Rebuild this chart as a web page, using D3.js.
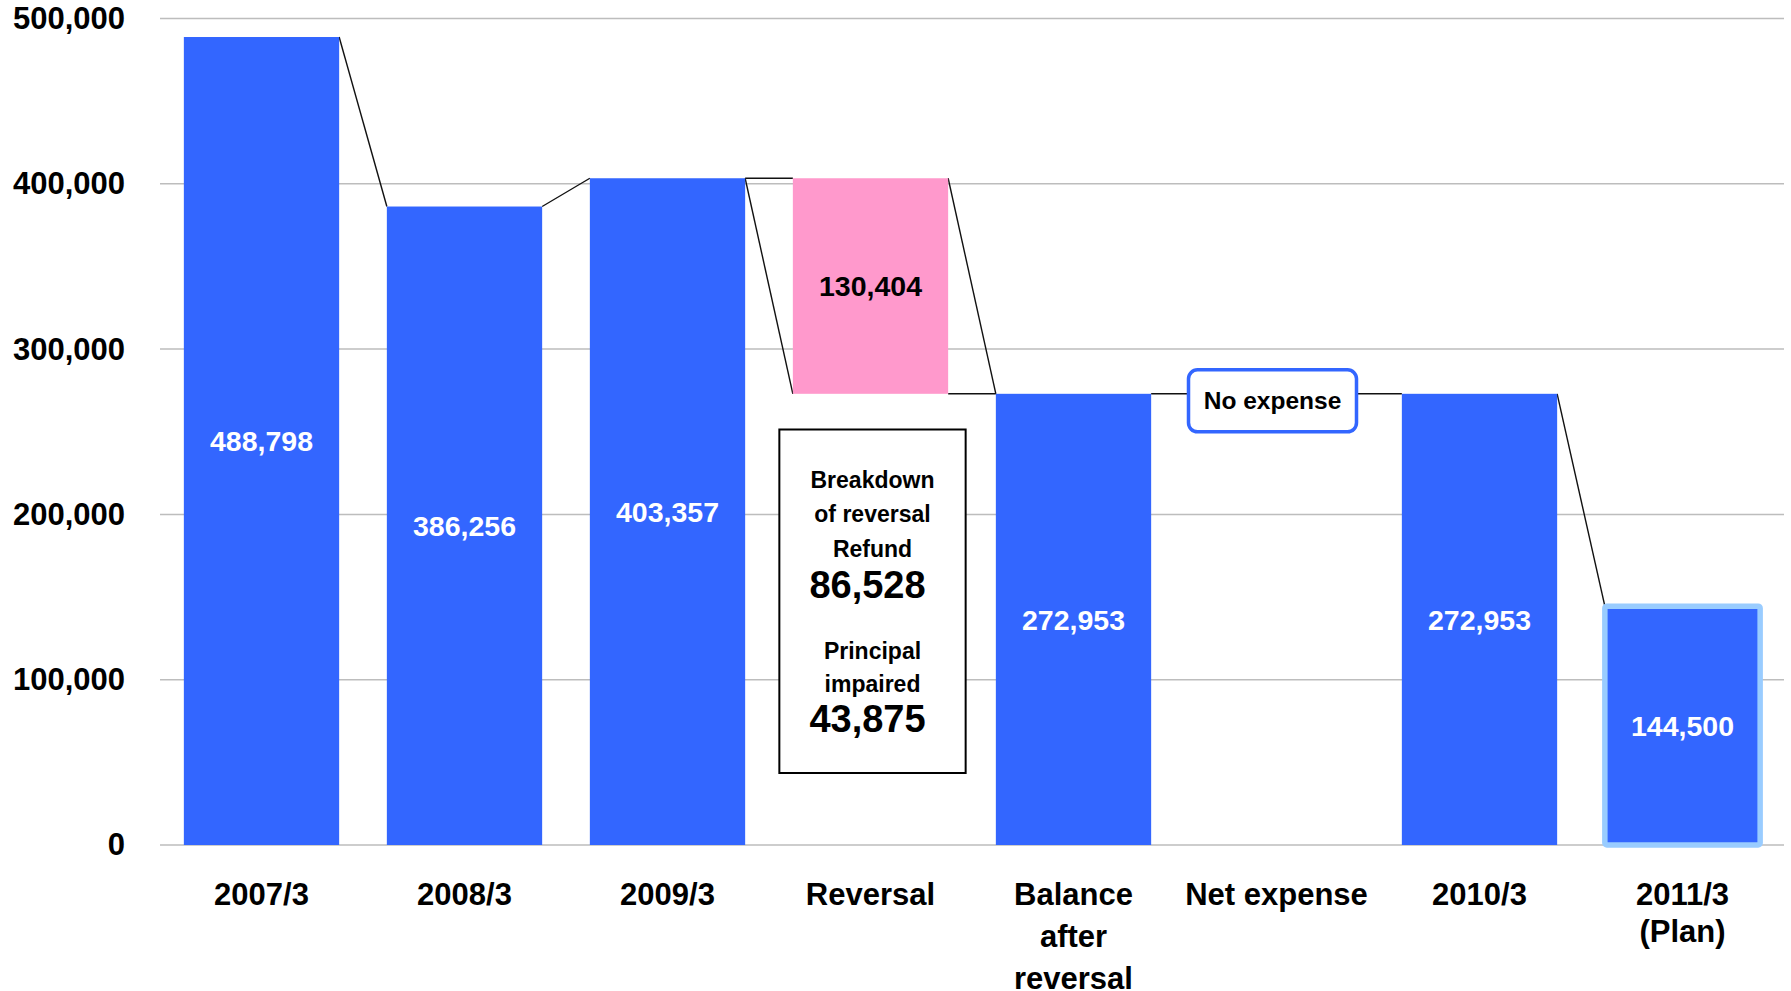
<!DOCTYPE html>
<html>
<head>
<meta charset="utf-8">
<script src="https://cdn.jsdelivr.net/npm/d3@7"></script>
<style>
    body { margin: 0; background: #fff; }
    text { font-family: "Liberation Sans", Arial, sans-serif; font-weight: bold; }
</style>
</head>
<body>
<div id="chart-area"></div>
<script>
/*
*    main.js
*/
var categories = [
    ["2007/3"], ["2008/3"], ["2009/3"], ["Reversal"],
    ["Balance", "after", "reversal"], ["Net expense"], ["2010/3"], ["2011/3", "(Plan)"]
];
var kinds = ["total", "total", "total", "change", "total", "change", "total", "plan"];
var barBottoms = [0, 0, 0, 272953, 0, 272953, 0, 0];
var barValues = [488798, 386256, 403357, 130404, 272953, 0, 272953, 144500];
var yTicks = [0, 100000, 200000, 300000, 400000, 500000];

var breakdownLabels = [["Breakdown", "of reversal", "Refund"], ["Principal", "impaired"]];
var breakdownValues = [86528, 43875];
var noteText = "No expense";

var fmt = d3.format(",");

var svg = d3.select("#chart-area").append("svg")
    .attr("width", 1791)
    .attr("height", 991);

var x = d3.scaleBand()
    .domain(d3.range(categories.length))
    .range([160, 1784])
    .paddingInner(0.235)
    .paddingOuter(0.1175);

var y = d3.scaleLinear()
    .domain([0, 500000])
    .range([845, 18.5]);

// gridlines
svg.append("g").selectAll("line").data(yTicks).enter().append("line")
    .attr("x1", 160)
    .attr("x2", 1784)
    .attr("y1", (d) => y(d))
    .attr("y2", (d) => y(d))
    .attr("stroke", "#bdbdbd")
    .attr("stroke-width", 1.5);

// y labels
var yAxis = d3.axisLeft(y).tickValues(yTicks).tickFormat(fmt).tickSize(0).tickPadding(0);
var yg = svg.append("g").attr("transform", "translate(125,0)").call(yAxis);
yg.select(".domain").remove();
yg.selectAll("text")
    .attr("font-size", 31)
    .attr("font-family", "Liberation Sans, Arial, sans-serif")
    .attr("font-weight", "bold")
    .attr("fill", "#000");

// connector (series) lines
var lo = barValues.map((v, i) => kinds[i] == "change" ? barBottoms[i] : barBottoms[i] + v);
var hi = barValues.map((v, i) => barBottoms[i] + v);
var links = [];
for (var i = 0; i < categories.length - 1; i++) {
    links.push({ i: i, a: lo[i], b: lo[i + 1] });
    if (hi[i] != lo[i] || hi[i + 1] != lo[i + 1]) {
        links.push({ i: i, a: hi[i], b: hi[i + 1] });
    }
}
svg.append("g").selectAll("line").data(links).enter().append("line")
    .attr("x1", (d) => x(d.i) + x.bandwidth())
    .attr("x2", (d) => x(d.i + 1))
    .attr("y1", (d) => y(d.a))
    .attr("y2", (d) => y(d.b))
    .attr("stroke", "#111")
    .attr("stroke-width", 1.4);

// bars
svg.append("g").selectAll("rect").data(barValues).enter().append("rect")
    .attr("x", (d, i) => x(i))
    .attr("y", (d, i) => y(barBottoms[i] + d))
    .attr("width", x.bandwidth())
    .attr("height", (d, i) => y(barBottoms[i]) - y(barBottoms[i] + d))
    .attr("fill", (d, i) => kinds[i] == "change" ? "#ff99cc" : "#3366ff")
    .attr("stroke", (d, i) => kinds[i] == "plan" ? "#99ccff" : "none")
    .attr("stroke-width", 5.5)
    .attr("rx", (d, i) => kinds[i] == "plan" ? 2 : 0);

// value labels
var labelData = barValues.map((v, i) => ({ v: v, i: i })).filter((d) => d.v > 0);
svg.append("g").selectAll("text").data(labelData).enter().append("text")
    .attr("x", (d) => x(d.i) + x.bandwidth() / 2)
    .attr("y", (d) => (y(barBottoms[d.i]) + y(barBottoms[d.i] + d.v)) / 2)
    .attr("dy", "0.36em")
    .attr("text-anchor", "middle")
    .attr("font-size", 28.5)
    .attr("fill", (d) => kinds[d.i] == "change" ? "#000" : "#fff")
    .text((d) => fmt(d.v));

// category labels
var cat = svg.append("g").selectAll("text").data(categories).enter().append("text")
    .attr("x", (d, i) => x(i) + x.bandwidth() / 2)
    .attr("y", 905)
    .attr("text-anchor", "middle")
    .attr("font-size", 31);
cat.selectAll("tspan").data((d) => d).enter().append("tspan")
    .attr("x", function () { return this.parentNode.getAttribute("x"); })
    .attr("dy", (d, j) => j == 0 ? 0 : (d == "(Plan)" ? 37 : 42))
    .text((d) => d);

// breakdown box under the reversal bar
var ri = kinds.indexOf("change");
var bx = x(ri) - 13.5, bw = x.bandwidth() + 31;
svg.append("rect")
    .attr("x", bx)
    .attr("y", 429.5)
    .attr("width", bw)
    .attr("height", 343.5)
    .attr("fill", "#fff")
    .attr("stroke", "#000")
    .attr("stroke-width", 2);

var bc = bx + bw / 2;
var smallRows = [488, 522, 557];
breakdownLabels[0].forEach((t, j) => {
    svg.append("text").attr("x", bc).attr("y", smallRows[j])
        .attr("text-anchor", "middle").attr("font-size", 23).text(t);
});
svg.append("text").attr("x", bc - 5).attr("y", 598)
    .attr("text-anchor", "middle").attr("font-size", 38).text(fmt(breakdownValues[0]));
var smallRows2 = [659, 692];
breakdownLabels[1].forEach((t, j) => {
    svg.append("text").attr("x", bc).attr("y", smallRows2[j])
        .attr("text-anchor", "middle").attr("font-size", 23).text(t);
});
svg.append("text").attr("x", bc - 5).attr("y", 732)
    .attr("text-anchor", "middle").attr("font-size", 38).text(fmt(breakdownValues[1]));

// "No expense" note
var ni = 5;
var nx = x(ni) + x.bandwidth() / 2 - 4;
svg.append("rect")
    .attr("x", nx - 84)
    .attr("y", y(barBottoms[ni]) - 24)
    .attr("width", 168)
    .attr("height", 62)
    .attr("rx", 9)
    .attr("fill", "#fff")
    .attr("stroke", "#3366ff")
    .attr("stroke-width", 3.5);
svg.append("text")
    .attr("x", nx)
    .attr("y", y(barBottoms[ni]) + 7)
    .attr("dy", "0.35em")
    .attr("text-anchor", "middle")
    .attr("font-size", 24.5)
    .text(noteText);
</script>
</body>
</html>
